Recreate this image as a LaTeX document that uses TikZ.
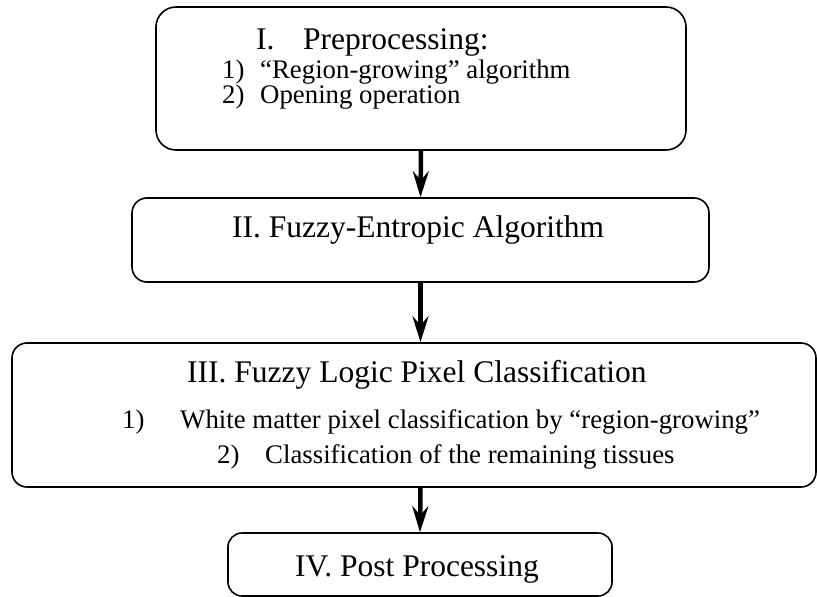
\documentclass[tikz,border=0pt]{standalone}
\usepackage{fontspec}
\setmainfont{Liberation Serif}
\usetikzlibrary{arrows.meta}
\begin{document}
\begin{tikzpicture}[x=1pt,y=-1pt,
  box/.style={draw=black, line width=1.6pt, rounded corners=#1, inner sep=0pt, shape=rectangle},
  box/.default=15pt,
  head/.style={anchor=base west, inner sep=0pt, font=\fontsize{31.5}{36}\selectfont},
  sub/.style={anchor=base west, inner sep=0pt, font=\fontsize{26.8}{30}\selectfont},
  arr/.style={line width=4.5pt, -{Stealth[length=26pt,width=16pt,inset=9pt]}}
]
\useasboundingbox (0,0) rectangle (817,597);

% boxes
\node[box=20pt, minimum width=530pt, minimum height=143pt] (b1) at (421,78.5) {};
\node[box, minimum width=577pt, minimum height=84pt] (b2) at (420.5,240) {};
\node[box, minimum width=804pt, minimum height=144pt] (b3) at (414,415) {};
\node[box=14pt, minimum width=384pt, minimum height=63pt] (b4) at (420,564.5) {};

% box I text
\node[head] (t1) at (256,49) {I.};
\node[head] (t1b) at (303,49) {Preprocessing:};
\node[sub] (t1n1) at (222,78) {1)};
\node[sub] (t1l1) at (260,78) {“Region-growing” algorithm};
\node[sub] (t1n2) at (222,103) {2)};
\node[sub] (t1l2) at (260,103) {Opening operation};

% box II text
\node[head] (t2) at (232,237) {II. Fuzzy-Entropic Algorithm};

% box III text
\node[head] (t3) at (187,382) {III. Fuzzy Logic Pixel Classification};
\node[sub] (t3n1) at (122,428) {1)};
\node[sub] (t3l1) at (180,428) {White matter pixel classification by “region-growing”};
\node[sub] (t3n2) at (217,463) {2)};
\node[sub] (t3l2) at (265,463) {Classification of the remaining tissues};

% box IV text
\node[head] (t4) at (295,576) {IV. Post Processing};

% arrows
\draw[arr] (b1.south) -- (b2.north);
\draw[arr] (b2.south) -- (b2.south |- b3.north);
\draw[arr] (b2.south |- b3.south) -- (b4.north);
\end{tikzpicture}
\end{document}
